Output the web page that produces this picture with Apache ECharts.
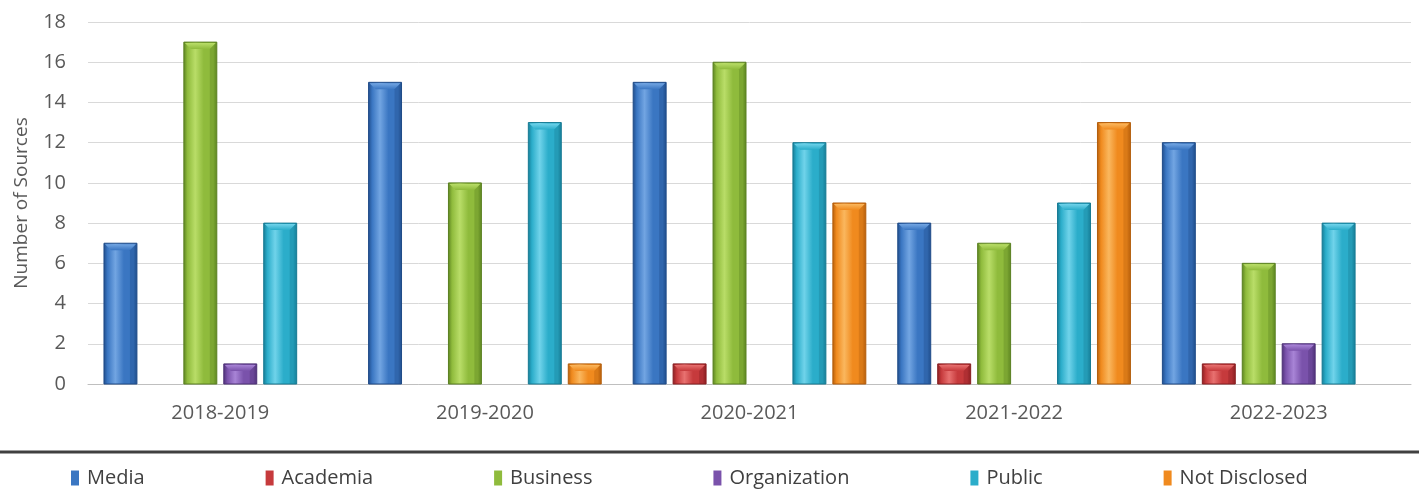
<!DOCTYPE html>
<html>
<head>
<meta charset="utf-8">
<script src="https://cdn.jsdelivr.net/npm/echarts@6/dist/echarts.min.js"></script>
<style>
  html, body { margin: 0; padding: 0; background: #ffffff; }
  #chart { width: 1419px; height: 493px; }
</style>
</head>
<body>
<div id="chart"></div>
<script>
// Academic years on the category axis
const years = ['2018-2019', '2019-2020', '2020-2021', '2021-2022', '2022-2023'];

// Number of sources per type and year (null = no sources that year)
const media        = [7, 15, 15, 8, 12];
const academia     = [null, null, 1, 1, 1];
const business     = [17, 10, 16, 7, 6];
const organization = [1, null, null, null, 2];
const publicSrc    = [8, 13, 12, 9, 8];
const notDisclosed = [null, 1, 9, 13, null];

const yTicks = { min: 0, max: 18, interval: 2 };

// name, values, base / light / dark shades for the bevelled bars
const seriesDefs = [
  ['Media',         media,        '#3a76c2', '#72a5e2', '#1f4b88'],
  ['Academia',      academia,     '#c63a3c', '#e87170', '#881e21'],
  ['Business',      business,     '#8fbb3c', '#b9dd68', '#5a8020'],
  ['Organization',  organization, '#7a52ab', '#a884d6', '#4d3076'],
  ['Public',        publicSrc,    '#2badca', '#70d3ea', '#167a93'],
  ['Not Disclosed', notDisclosed, '#f08a1e', '#fab75e', '#b35d0b']
];

const nSeries = seriesDefs.length;

function makeRenderer(si, base, light, dark) {
  return function (params, api) {
    const idx = api.value(0);
    const val = api.value(1);
    if (val == null || isNaN(val)) return;
    const catW = api.size([1, 0])[0];
    const step = catW * 40 / 265;
    const bw = catW * 33 / 265;
    const cx = api.coord([idx, 0])[0] + (si - (nSeries - 1) / 2) * step;
    const yBase = api.coord([idx, 0])[1];
    const yTop = api.coord([idx, val])[1];
    const x0 = cx - bw / 2, x1 = cx + bw / 2;
    const h = yBase - yTop;
    const b = Math.min(7, h / 2);
    const bodyFill = new echarts.graphic.LinearGradient(0, 0, 1, 0, [
      { offset: 0, color: dark },
      { offset: 0.12, color: base },
      { offset: 0.35, color: light },
      { offset: 0.6, color: base },
      { offset: 0.88, color: base },
      { offset: 1, color: dark }
    ]);
    const capFill = new echarts.graphic.LinearGradient(0, 0, 0, 1, [
      { offset: 0, color: light },
      { offset: 1, color: base }
    ]);
    return {
      type: 'group',
      children: [
        {
          type: 'rect',
          shape: { x: x0, y: yTop, width: bw, height: h },
          style: { fill: bodyFill, stroke: dark, lineWidth: 1 }
        },
        {
          type: 'polygon',
          shape: { points: [[x0 + 1, yTop + 1], [x1 - 1, yTop + 1], [x1 - b, yTop + b], [x0 + b, yTop + b]] },
          style: { fill: capFill }
        },
        {
          type: 'polygon',
          shape: { points: [[x1 - 1, yTop + 1], [x1 - 1, yBase], [x1 - b, yBase], [x1 - b, yTop + b]] },
          style: { fill: dark, opacity: 0.35 }
        }
      ]
    };
  };
}

const chart = echarts.init(document.getElementById('chart'), null, { renderer: 'canvas' });

const series = seriesDefs.map(function (d, si) {
  return {
    name: d[0],
    type: 'custom',
    renderItem: makeRenderer(si, d[2], d[3], d[4]),
    encode: { x: 0, y: 1 },
    itemStyle: { color: d[2] },
    data: d[1].map(function (v, i) { return [i, v]; })
  };
});

chart.setOption({
  animation: false,
  backgroundColor: '#ffffff',
  textStyle: { fontFamily: 'Open Sans, Lato, sans-serif' },
  grid: { left: 88, right: 8, top: 22, bottom: 109, containLabel: false },
  xAxis: {
    type: 'category',
    data: years,
    axisLine: { lineStyle: { color: '#bfbfbf', width: 1 } },
    axisTick: { show: false },
    axisLabel: { color: '#595959', fontSize: 20, margin: 19 },
    splitLine: { show: false }
  },
  yAxis: {
    type: 'value',
    min: yTicks.min,
    max: yTicks.max,
    interval: yTicks.interval,
    name: 'Number of Sources',
    nameLocation: 'middle',
    nameGap: 57,
    nameTextStyle: { color: '#595959', fontSize: 19 },
    axisLine: { show: false },
    axisTick: { show: false },
    axisLabel: { color: '#595959', fontSize: 20, margin: 22 },
    splitLine: { lineStyle: { color: '#d9d9d9', width: 1 } }
  },
  legend: {
    left: 66,
    top: 463,
    icon: 'rect',
    itemWidth: 8,
    itemHeight: 15,
    itemGap: 121,
    textStyle: { color: '#404040', fontSize: 20, padding: [0, 0, 0, 3] },
    data: seriesDefs.map(function (d) { return { name: d[0], itemStyle: { color: d[2] } }; })
  },
  graphic: [
    {
      type: 'line',
      shape: { x1: 0, y1: 452, x2: 1419, y2: 452 },
      style: { stroke: '#404040', lineWidth: 3 }
    }
  ],
  series: series
});
</script>
</body>
</html>
